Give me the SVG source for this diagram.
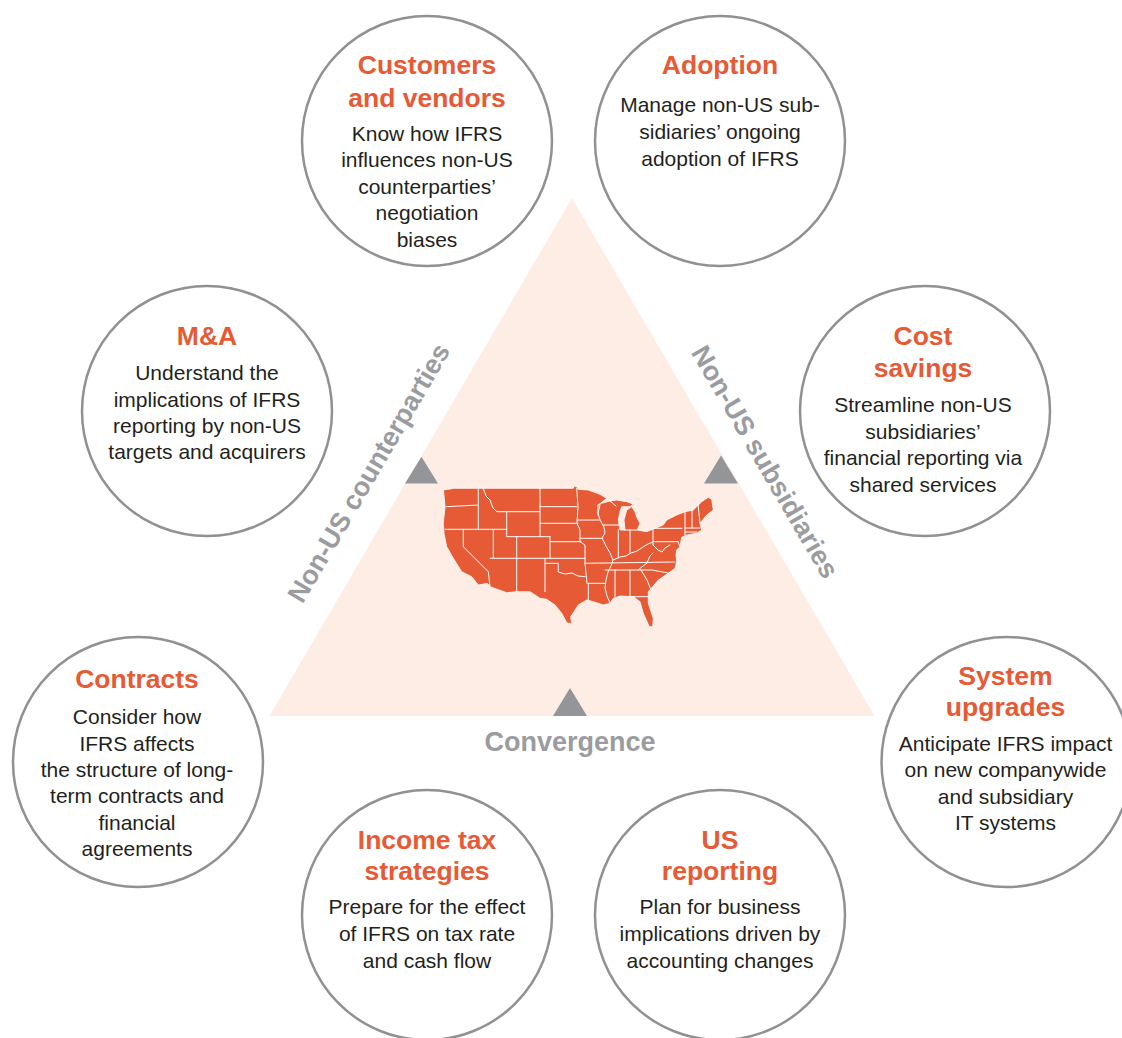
<svg xmlns="http://www.w3.org/2000/svg" width="1122" height="1038" viewBox="0 0 1122 1038">
<style>
.node circle{fill:#ffffff;stroke:#8f9194;stroke-width:2.5}
.t{font-family:"Liberation Sans",Arial,Helvetica,sans-serif;font-weight:bold;font-size:26.5px;fill:#e65a35;text-anchor:middle}
.b{font-family:"Liberation Sans",Arial,Helvetica,sans-serif;font-size:21px;fill:#231f20;text-anchor:middle}
.lab{font-family:"Liberation Sans",Arial,Helvetica,sans-serif;font-weight:bold;font-size:27px;fill:#9a9c9f;text-anchor:middle}
.mk{fill:#939598}
.states{fill:none;stroke:#ffffff;stroke-width:1;stroke-linejoin:round;stroke-linecap:round}
</style>
<rect width="1122" height="1038" fill="#ffffff"/>
<g id="center">
<polygon points="572,198 269.5,716 874.5,716" fill="#fdede4"/>
<g id="map">
<path fill="#e65a35" stroke="#ffffff" stroke-width="0.8" d="M443.3,490 L450,489 L453.3,488.3 L573.3,488.3 L574,486 L576.7,486.7 L578.3,489.3 L588.3,490 L600,494.3 L606.7,498.3 L598.3,505 L601.7,503.3 L610,501 L616.7,500 L626.7,501.7 L633.3,504 L630,506.7 L621.7,506.7 L620,511.7 L618.3,520 L620,530 L625,530 L624,520 L626.7,510 L631.7,506.7 L635,511.7 L637.3,518.3 L640,523.3 L637.3,530 L646.7,531.7 L655,528.3 L663.3,525 L666.7,520 L676.7,515 L685,511.7 L693.3,510 L701.7,501.7 L708.3,497.3 L711.7,499.3 L713.3,510 L706.7,515 L700,523.3 L701.7,530 L696.7,533.3 L686.7,535 L681.7,537.3 L680,546.7 L676.7,550 L676,555 L676.7,561.7 L675,568.3 L668.3,573.3 L658.3,580 L648.3,591.7 L648.3,603.3 L653.3,618.3 L652.7,626.7 L649.3,626.7 L643.3,613.3 L640,601.7 L633.3,596.7 L620,596 L613.3,598.3 L610,603.3 L603.3,605 L593.3,601.7 L586.7,600 L578.3,605 L570.7,616.7 L571.7,624 L566.7,622.7 L561.7,613.3 L555,605 L546.7,599.3 L540,598.3 L535,595 L530,591.7 L516.7,591.7 L506.7,592.7 L490,586.7 L487.3,583.3 L478.3,585 L471.7,576.7 L461.7,571.7 L453.3,558.3 L446.7,546.7 L444,533.3 L443.3,523.3 L445,506.7 L444,495 Z"/>
<path class="states" d="M478.3,488.3 L478.3,529.3 M446,506.7 L478.3,505 M445,529.3 L506.7,529.3 M483.3,488.3 L486,496 L490,500 L493,508 L497,511.7 L506.7,511.7 L540,511.7 M506.7,511.7 L506.7,536.7 L550,536.7 M516.7,536.7 L516.7,558.3 M540,488.3 L540,536.7 M540,506.7 L577,506.7 M540,523.3 L578,523.3 M550,536.7 L550,558.3 M550,541.7 L581,541.7 M490,558.3 L585,558.3 M493.3,529.3 L493.3,558.3 M516.7,558.3 L516.7,592 M545,558.3 L545,591.7 M545,563.3 L558.3,563.3 L558.3,572 L565,574 L572,573 L578,576 L585,576.7 M463.3,529.3 L463.3,546.7 L488.3,571.7 L490,586.7 M576.7,488.3 L578,506.7 L577,523.3 L580,530 L580,541.7 L585,545 L585,563.3 M577,520 L600,520 M580,538.3 L602,538.3 M600,505 L598,513 L600,520 L604,527 L605,533 L602,538 L606,546 L610,553 L613,560 L611,566 L608,572 L606,580 L605,588 L607,596 L610,603 M603,525 L620,525 M618.3,530 L618.3,558 M630,530 L630,553 M624,530 L637,530 M613,560 L620,557 L626,556 L631,553 L637,551 L643,547 L648,544 L653,542 M653,528.3 L653,545 M653,528.3 L682,528.3 M653,541.7 L678,541.7 M585,563.3 L675,562 M605,570 L641,570 M646.7,563.3 L638,570 M615,570 L615,596.7 M630,570 L630,596.7 M630,596.7 L648.3,596.7 M641,570 L652,570 L668,573 M641,570 L647,580 L651,590 M588.3,583.3 L605,583.3 M588.3,583.3 L588.3,601 M585,563.3 L587,583.3 M653,545 L658,550 L662,552 L665,548 L670,545 M646.7,563.3 L650,556 L653,553 M685,511.7 L685,535 M692,510 L692,528 M685,528 L700,528 M685,532 L697,532 M698,504 L700,523 M610,501 L616,506 M678,541.7 L680,546.7 M598,505 L598,515"/>
</g>
</g>
<g id="markers">
<polygon class="mk" points="421.5,456.7 405,483.5 438,483.5"/>
<polygon class="mk" points="721,455.5 704,483.5 738,483.5"/>
<polygon class="mk" points="570,688 553,716 587,716"/>
</g>
<g id="labels">
<text class="lab" transform="translate(369,473) rotate(-59.7)" y="9">Non-US counterparties</text>
<text class="lab" transform="translate(765,462) rotate(59.7)" y="9">Non-US subsidiaries</text>
<text class="lab" x="570" y="751">Convergence</text>
</g>
<g id="connectors"></g>
<g id="customers" class="node">
<circle cx="427" cy="141" r="125"/>
<text class="t" x="427" y="74">Customers</text>
<text class="t" x="427" y="107">and vendors</text>
<text class="b" x="427" y="140.5">Know how IFRS</text>
<text class="b" x="427" y="167">influences non-US</text>
<text class="b" x="427" y="193.5">counterparties’</text>
<text class="b" x="427" y="220">negotiation</text>
<text class="b" x="427" y="246.5">biases</text>
</g>
<g id="adoption" class="node">
<circle cx="720" cy="141" r="125"/>
<text class="t" x="720" y="74">Adoption</text>
<text class="b" x="720" y="111.5">Manage non-US sub-</text>
<text class="b" x="720" y="138.5">sidiaries’ ongoing</text>
<text class="b" x="720" y="165.5">adoption of IFRS</text>
</g>
<g id="ma" class="node">
<circle cx="207" cy="411" r="125"/>
<text class="t" x="207" y="344.5">M&amp;A</text>
<text class="b" x="207" y="380">Understand the</text>
<text class="b" x="207" y="407">implications of IFRS</text>
<text class="b" x="207" y="433">reporting by non-US</text>
<text class="b" x="207" y="459">targets and acquirers</text>
</g>
<g id="cost" class="node">
<circle cx="925" cy="411" r="125"/>
<text class="t" x="923" y="344.5">Cost</text>
<text class="t" x="923" y="377">savings</text>
<text class="b" x="923" y="412">Streamline non-US</text>
<text class="b" x="923" y="438.5">subsidiaries’</text>
<text class="b" x="923" y="465">financial reporting via</text>
<text class="b" x="923" y="491.5">shared services</text>
</g>
<g id="contracts" class="node">
<circle cx="138" cy="762" r="125"/>
<text class="t" x="137" y="688">Contracts</text>
<text class="b" x="137" y="724">Consider how</text>
<text class="b" x="137" y="751">IFRS affects</text>
<text class="b" x="137" y="777">the structure of long-</text>
<text class="b" x="137" y="803">term contracts and</text>
<text class="b" x="137" y="830">financial</text>
<text class="b" x="137" y="856">agreements</text>
</g>
<g id="system" class="node">
<circle cx="1006.5" cy="762" r="125"/>
<text class="t" x="1005.5" y="685">System</text>
<text class="t" x="1005.5" y="716">upgrades</text>
<text class="b" x="1005.5" y="751">Anticipate IFRS impact</text>
<text class="b" x="1005.5" y="777">on new companywide</text>
<text class="b" x="1005.5" y="804">and subsidiary</text>
<text class="b" x="1005.5" y="830">IT systems</text>
</g>
<g id="incometax" class="node">
<circle cx="427" cy="915" r="125"/>
<text class="t" x="427" y="848.5">Income tax</text>
<text class="t" x="427" y="880">strategies</text>
<text class="b" x="427" y="914">Prepare for the effect</text>
<text class="b" x="427" y="941">of IFRS on tax rate</text>
<text class="b" x="427" y="967.5">and cash flow</text>
</g>
<g id="usreporting" class="node">
<circle cx="720" cy="915" r="125"/>
<text class="t" x="720" y="848.5">US</text>
<text class="t" x="720" y="880">reporting</text>
<text class="b" x="720" y="914">Plan for business</text>
<text class="b" x="720" y="941">implications driven by</text>
<text class="b" x="720" y="967.5">accounting changes</text>
</g>
</svg>
